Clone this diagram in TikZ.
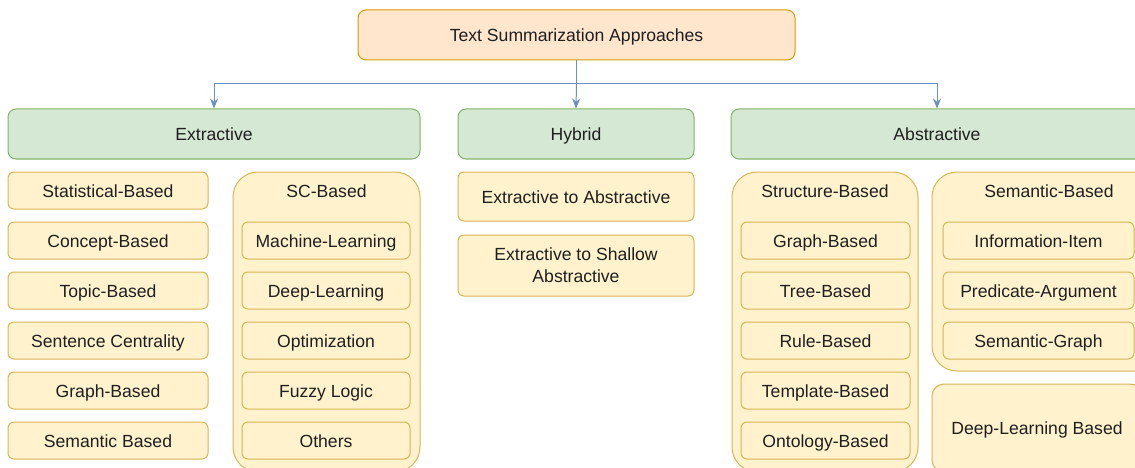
\documentclass[tikz,border=0pt]{standalone}
\usepackage{fontspec}
\setmainfont{Liberation Sans}
\usetikzlibrary{positioning, arrows.meta}

\definecolor{rootfill}{HTML}{FFE6CC}
\definecolor{rootline}{HTML}{D79B00}
\definecolor{catfill}{HTML}{D5E8D4}
\definecolor{catline}{HTML}{82B366}
\definecolor{itemfill}{HTML}{FFF2CC}
\definecolor{itemline}{HTML}{D6B656}
\definecolor{linkblue}{HTML}{6C8EBF}

\begin{document}
\begin{tikzpicture}[
        x=1pt, y=-1pt,
        font=\fontsize{17.6}{22}\selectfont,
        every node/.style={inner sep=0pt, align=center, text=black!88},
        oneline/.style={text height=13pt, text depth=0pt},
        rootbox/.style={oneline, draw=rootline, fill=rootfill, line width=1pt, rounded corners=8pt,
            minimum width=437pt, minimum height=50pt},
        catbox/.style={oneline, draw=catline, fill=catfill, line width=1pt, rounded corners=8pt,
            minimum height=50pt},
        itembox/.style={oneline, draw=itemline, fill=itemfill, line width=1pt, rounded corners=6pt,
            minimum height=37pt},
        groupbox/.style={draw=itemline, fill=itemfill, line width=1pt, rounded corners=25pt},
        link/.style={draw=linkblue, line width=1pt, -{Stealth[length=10pt, width=8pt]}},
    ]
    \useasboundingbox (0,0) rectangle (1135,468);
    \clip (0,0) rectangle (1135,468);

    % top level
    \node[rootbox] (root) at (576.5,35) {Text Summarization Approaches};
    \node[catbox, minimum width=412pt] (extr) at (214,134) {Extractive};
    \node[catbox, minimum width=236pt] (hyb) at (576,134) {Hybrid};
    \node[catbox, minimum width=412pt] (abst) at (937,134) {Abstractive};

    \coordinate (bus) at (576.5,84);
    \draw[link] (root.south) -- (bus) -| (extr.north);
    \draw[link] (bus) -- (hyb.north);
    \draw[link] (bus) -| (abst.north);

    % extractive
    \node[itembox, minimum width=200pt] (stat) at (108,190.5) {Statistical-Based};
    \node[itembox, minimum width=200pt, below=12pt of stat] (conc) {Concept-Based};
    \node[itembox, minimum width=200pt, below=12pt of conc] (topic) {Topic-Based};
    \node[itembox, minimum width=200pt, below=12pt of topic] (cent) {Sentence Centrality};
    \node[itembox, minimum width=200pt, below=12pt of cent] (xgraph) {Graph-Based};
    \node[itembox, minimum width=200pt, below=12pt of xgraph] (xsem) {Semantic Based};

    \node[groupbox, minimum width=187pt, minimum height=300pt] (sc) at (326.5,322) {};
    \node[oneline] (sctitle) at (326.5,190.5) {SC-Based};
    \node[itembox, minimum width=168pt] (ml) at (326,240.5) {Machine-Learning};
    \node[itembox, minimum width=168pt, below=12pt of ml] (dl) {Deep-Learning};
    \node[itembox, minimum width=168pt, below=12pt of dl] (opt) {Optimization};
    \node[itembox, minimum width=168pt, below=12pt of opt] (fuzzy) {Fuzzy Logic};
    \node[itembox, minimum width=168pt, below=12pt of fuzzy] (others) {Others};

    % hybrid
    \node[itembox, minimum width=236pt, minimum height=49pt] (e2a) at (576,196.5) {Extractive to Abstractive};
    \node[itembox, text height={}, text depth={}, minimum width=236pt, minimum height=61pt] (e2s) at (576,265.5) {Extractive to Shallow\\Abstractive};

    % abstractive
    \node[groupbox, minimum width=186pt, minimum height=300pt] (struct) at (825,322) {};
    \node[oneline] (structtitle) at (825,190.5) {Structure-Based};
    \node[itembox, minimum width=169pt] (agraph) at (825.5,240.5) {Graph-Based};
    \node[itembox, minimum width=169pt, below=12pt of agraph] (tree) {Tree-Based};
    \node[itembox, minimum width=169pt, below=12pt of tree] (rule) {Rule-Based};
    \node[itembox, minimum width=169pt, below=12pt of rule] (templ) {Template-Based};
    \node[itembox, minimum width=169pt, below=12pt of templ] (onto) {Ontology-Based};

    \node[groupbox, minimum width=234pt, minimum height=199pt] (sem) at (1049,271.5) {};
    \node[oneline] (semtitle) at (1049,190.5) {Semantic-Based};
    \node[itembox, minimum width=191pt] (info) at (1038.5,240.5) {Information-Item};
    \node[itembox, minimum width=191pt, below=12pt of info] (pred) {Predicate-Argument};
    \node[itembox, minimum width=191pt, below=12pt of pred] (semgraph) {Semantic-Graph};

    \node[groupbox, oneline, rounded corners=12pt, minimum width=210pt, minimum height=88pt] (deep) at (1037,428) {Deep-Learning Based};
\end{tikzpicture}
\end{document}
